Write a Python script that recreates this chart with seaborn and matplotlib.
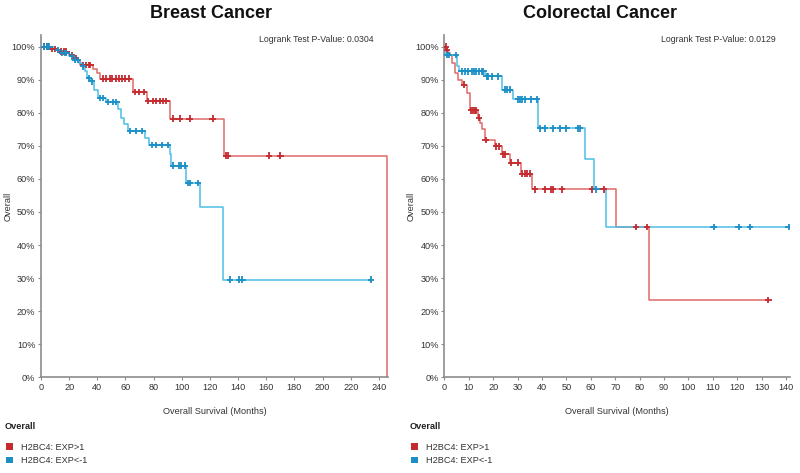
import numpy as np
import pandas as pd
import matplotlib
matplotlib.use("Agg")
import matplotlib.pyplot as plt
from matplotlib.patches import Patch
import seaborn as sns

sns.set_style("white")
plt.rcParams["font.family"] = ["Liberation Sans", "DejaVu Sans"]

# ---------------- data ----------------
groups = ["H2BC4: EXP>1", "H2BC4: EXP<-1"]
titles = ["Breast Cancer", "Colorectal Cancer"]
pvalues = ["0.0304", "0.0129"]

# Breast, EXP>1 (red)
br_hi_times = [6.4, 12, 20, 23, 26, 28, 37, 39.5, 42, 65.5, 75.5, 91.3, 129.8, 245.5]
br_hi_surv = [99.3, 98.5, 97.5, 96.5, 95.5, 94.5, 93.3, 92, 90.3, 86.2, 83.5, 78.2, 67, 0]
br_hi_cens = [2, 4, 5, 8, 10, 14, 16, 18, 22, 25, 30, 32, 34, 35, 44, 46, 48.8, 50.6, 53, 55.3,
              57.7, 60, 62.3, 67, 69.4, 73, 76, 79.6, 82, 84.3, 86.7, 89, 94, 98.5, 105.5, 122,
              131.5, 133, 162, 170]

# Breast, EXP<-1 (blue)
br_lo_times = [10, 14, 20, 23, 27, 29, 31, 33, 35, 38, 40.5, 46, 54.5, 56.5, 59, 62, 74, 76.5,
               91.5, 92.5, 103, 112.6, 129.5]
br_lo_surv = [99, 98, 97, 96, 95, 94, 92.5, 90.5, 89.5, 87, 84.5, 83.2, 81, 78.5, 76.5, 74.5,
              72.5, 70.2, 67.5, 64, 58.8, 51.5, 29.5]
br_lo_cens = [2, 4, 6, 12, 15, 17, 18, 22, 24, 26, 30, 34, 36, 41.8, 44.2, 47.7, 51.1, 53.5,
              63.5, 67.7, 72, 79, 81.9, 85.9, 90.1, 93.7, 98, 99.6, 102, 104.4, 105.6, 111.6,
              134.3, 141, 143, 234.5]

# Colorectal, EXP>1 (red)
cr_hi_times = [0.8, 1.5, 2.3, 3, 4.4, 5.7, 7.1, 9.2, 10.5, 13.9, 14.5, 15.3, 16.6, 20.7, 23.5,
               26.9, 31.6, 36.1, 70.5, 83.8]
cr_hi_surv = [99, 98, 97.5, 95, 92, 90, 88.5, 86, 80.7, 78.5, 77, 75, 71.7, 69.8, 67.4, 64.9,
              61.6, 56.8, 45.5, 23.3]
cr_hi_cens = [0.5, 1.2, 8, 11, 11.8, 12.4, 13, 14.2, 16.9, 21.2, 22.4, 24, 25, 27.5, 30, 32,
              33, 34, 35, 37.1, 41.2, 43.9, 44.6, 48.3, 60.7, 65.3, 78.6, 83, 132.7]

# Colorectal, EXP<-1 (blue)
cr_lo_times = [0.3, 5.1, 6.2, 16.6, 23.5, 28.2, 38.4, 57.5, 61.2, 66.4]
cr_lo_surv = [97.5, 94, 92.5, 91, 87, 84, 75.3, 66, 56.8, 45.5]
cr_lo_cens = [1.0, 2.0, 4.8, 7.1, 8.5, 9.8, 11.2, 12.1, 13, 14.3, 15.3, 16, 17.3, 18, 19.4, 22.1,
              24.8, 25.5, 26.9, 30.3, 31, 31.7, 33, 35.7, 37.8, 39.1, 41.2, 44.6, 47.3, 50, 54.8,
              55.5, 62.3, 110.3, 120.6, 125.3, 141]

panels = [
    dict(hi=(br_hi_times, br_hi_surv, br_hi_cens), lo=(br_lo_times, br_lo_surv, br_lo_cens),
         xmax=246.5, xstep=20, xlast=240),
    dict(hi=(cr_hi_times, cr_hi_surv, cr_hi_cens), lo=(cr_lo_times, cr_lo_surv, cr_lo_cens),
         xmax=141.6, xstep=10, xlast=140),
]

line_colors = {groups[0]: "#e06a6a", groups[1]: "#4cbfe6"}
mark_colors = {groups[0]: "#c42a2e", groups[1]: "#1b8fc6"}


def step_frame(times, surv, cens, group):
    t = [0.0] + list(times)
    s = [100.0] + list(surv)
    end = max(cens) if cens else t[-1]
    if end > t[-1]:
        t.append(end)
        s.append(s[-1])
    return pd.DataFrame({"time": t, "surv": s, "group": group})


def cens_frame(times, surv, cens, group):
    t = np.array([0.0] + list(times))
    s = np.array([100.0] + list(surv))
    idx = np.searchsorted(t, np.array(cens), side="right") - 1
    return pd.DataFrame({"time": cens, "surv": s[idx], "group": group})


fig = plt.figure(figsize=(8, 4.73), dpi=100)
W, H = 800, 473
ax_px = [(41, 388), (444.3, 790)]
top_px, bot_px = 35, 377.3

tick_color = "#333333"
spine_color = "#8c8c8c"

for i, (p, (x0, x1)) in enumerate(zip(panels, ax_px)):
    ax = fig.add_axes([x0 / W, 1 - bot_px / H, (x1 - x0) / W, (bot_px - top_px) / H])
    steps = pd.concat([step_frame(*p["hi"], groups[0]), step_frame(*p["lo"], groups[1])])
    cens = pd.concat([cens_frame(*p["hi"], groups[0]), cens_frame(*p["lo"], groups[1])])
    sns.lineplot(data=steps, x="time", y="surv", hue="group", palette=line_colors,
                 estimator=None, drawstyle="steps-post", linewidth=1.1, legend=False, ax=ax)
    sns.scatterplot(data=cens, x="time", y="surv", hue="group", palette=mark_colors,
                    marker="+", s=22, linewidth=1.3, legend=False, ax=ax, zorder=3)
    ax.set_xlim(0, p["xmax"])
    ax.set_ylim(0, 103.5)
    ax.set_xticks(np.arange(0, p["xlast"] + 1, p["xstep"]))
    ax.set_yticks(np.arange(0, 101, 10))
    ax.set_yticklabels([f"{v}%" for v in range(0, 101, 10)])
    for side in ["top", "right"]:
        ax.spines[side].set_visible(False)
    for side in ["left", "bottom"]:
        ax.spines[side].set_color(spine_color)
        ax.spines[side].set_linewidth(1.2)
    ax.tick_params(axis="both", labelsize=6.6, colors=spine_color, labelcolor=tick_color,
                   length=2.5, width=0.8, pad=1.5, direction="out", left=True, bottom=True)
    ax.set_xlabel("")
    ax.set_ylabel("")
    xc = (x0 + x1) / 2
    fig.text(xc / W, 1 - 411.5 / H, "Overall Survival (Months)", ha="center", va="center",
             fontsize=6.6, color=tick_color)
    fig.text((x0 - 33) / W, 1 - 206 / H, "Overall", rotation=90, ha="center", va="center",
             fontsize=6.6, color=tick_color)
    fig.text((x1 - 14) / W, 1 - 40 / H, f"Logrank Test P-Value: {pvalues[i]}", ha="right",
             va="center", fontsize=6.3, color=tick_color)
    fig.text([211, 600][i] / W, 1 - 13 / H, titles[i], ha="center", va="center",
             fontsize=13, fontweight="bold", color="#111111")

    lx = [5, 410][i]
    fig.text(lx / W, 1 - 426.5 / H, "Overall", ha="left", va="center", fontsize=6.6,
             fontweight="bold", color="#222222")
    handles = [Patch(facecolor=mark_colors[g], edgecolor="none", label=g) for g in groups]
    fig.legend(handles=handles, loc="upper left", bbox_to_anchor=((lx + 1) / W, 1 - 443 / H),
               frameon=False, fontsize=6.6, handlelength=0.75, handleheight=0.75,
               handletextpad=0.9, labelspacing=0.45, borderpad=0, borderaxespad=0,
               labelcolor=tick_color)

fig.savefig("out.png", dpi=100)
